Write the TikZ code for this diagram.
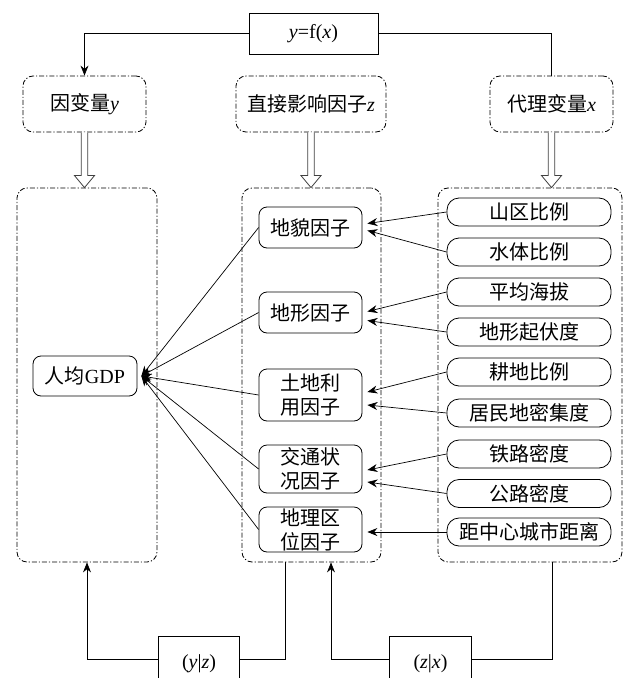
\documentclass[tikz,border=0pt]{standalone}
\usepackage{fontspec}
\setmainfont{Liberation Serif}
\newfontfamily\cjk{Noto Sans CJK SC}
\usetikzlibrary{arrows.meta,calc}
\begin{document}
\begin{tikzpicture}[x=1pt,y=-1pt,
 dd/.style={draw, line width=0.85pt, dash pattern=on 5pt off 2pt on 1.2pt off 2pt, rounded corners=10pt, inner sep=0pt},
 mnode/.style={draw, line width=0.8pt, rounded corners=8pt, minimum width=103pt, inner sep=0pt, align=center, font=\cjk\fontsize{20}{24}\selectfont},
 rnode/.style={draw, line width=0.8pt, rounded corners=12pt, minimum width=164pt, minimum height=28pt, inner sep=0pt, font=\cjk\fontsize{20}{24}\selectfont},
 sbox/.style={draw, line width=0.8pt, inner sep=0pt, font=\fontsize{20}{24}\selectfont},
 arr/.style={line width=0.7pt, -{Stealth[length=10pt,width=8pt]}},
 hollow/.style={draw=black!75, line width=0.8pt, fill=white},
 lab/.style={font=\fontsize{20}{24}\selectfont}
]
\useasboundingbox (0,0) rectangle (642,678);
\clip (0,0) rectangle (642,678);
% top
\node[sbox, minimum width=129pt, minimum height=41pt] (top) at (313.5,33.5) {\textit{y}=f(\textit{x})};
\node[dd, minimum width=123pt, minimum height=56pt, lab] (ty) at (84.5,104) {{\cjk 因变量}\textit{y}};
\node[dd, minimum width=150pt, minimum height=56pt, lab] (tz) at (311,104) {{\cjk 直接影响因子}\textit{z}};
\node[dd, minimum width=123pt, minimum height=56pt, lab] (tx) at (551.5,104) {{\cjk 代理变量}\textit{x}};
\draw[arr] (top.west) -| (ty.north);
\draw[line width=0.7pt] (top.east) -| (tx.north);
% big boxes
\node[dd, minimum width=140pt, minimum height=374pt] (L) at (87,375) {};
\node[dd, minimum width=139pt, minimum height=374pt] (M) at (311.5,375) {};
\node[dd, minimum width=184pt, minimum height=374pt] (R) at (530,375) {};
% hollow arrows
\foreach \a/\b in {ty/L,tz/M,tx/R}{
  \path[hollow] ($(\a.south)+(-3.3,0)$) -- ($(\a.south |- \b.north)+(-3.3,-12)$) -- ($(\a.south |- \b.north)+(-10,-12)$) -- (\a.south |- \b.north) -- ($(\a.south |- \b.north)+(10,-12)$) -- ($(\a.south |- \b.north)+(3.3,-12)$) -- ($(\a.south)+(3.3,0)$);
}
% GDP
\node[draw, line width=0.8pt, rounded corners=8pt, minimum width=104pt, minimum height=40pt, inner sep=0pt, lab] (gdp) at (85,376) {{\cjk 人均}GDP};
% middle nodes
\node[mnode, minimum height=41pt] (m1) at (310.5,227.5) {地貌因子};
\node[mnode, minimum height=41pt] (m2) at (310.5,312.5) {地形因子};
\node[mnode, minimum height=52pt] (m3) at (310.5,395) {土地利\\用因子};
\node[mnode, minimum height=48pt] (m4) at (310.5,469) {交通状\\况因子};
\node[mnode, minimum height=45pt] (m5) at (310.5,529.5) {地理区\\位因子};
% right nodes
\node[rnode] (r1) at (529,212) {山区比例};
\node[rnode] (r2) at (529,252) {水体比例};
\node[rnode] (r3) at (529,292) {平均海拔};
\node[rnode] (r4) at (529,332) {地形起伏度};
\node[rnode] (r5) at (529,372) {耕地比例};
\node[rnode] (r6) at (529,413) {居民地密集度};
\node[rnode] (r7) at (529,454) {铁路密度};
\node[rnode] (r8) at (529,493.5) {公路密度};
\node[rnode] (r9) at (529,532) {距中心城市距离};
% right -> middle arrows
\draw[arr] (r1.west) -- ($(m1.east)+(5,-4)$);
\draw[arr] (r2.west) -- ($(m1.east)+(5,3)$);
\draw[arr] (r3.west) -- ($(m2.east)+(5,-1)$);
\draw[arr] (r4.west) -- ($(m2.east)+(5,8)$);
\draw[arr] (r5.west) -- ($(m3.east)+(5,-3)$);
\draw[arr] (r6.west) -- ($(m3.east)+(5,10)$);
\draw[arr] (r7.west) -- ($(m4.east)+(5,1)$);
\draw[arr] (r8.west) -- ($(m4.east)+(5,13)$);
\draw[arr] (r9.west) -- ($(m5.east)+(5,2.5)$);
% middle -> GDP arrows
\foreach \m in {m1,m2,m3,m4,m5}{
  \draw[arr] (\m.west) -- ($(gdp.east)+(4,0)$);
}
% bottom boxes
\node[sbox, minimum width=81pt, minimum height=56pt] (yz) at (199,664) {(\textit{y}|\textit{z})};
\node[sbox, minimum width=82pt, minimum height=56pt] (zx) at (430.5,664) {(\textit{z}|\textit{x})};
\draw[arr] ($(yz.west)+(0,-5)$) -| (L.south);
\draw[line width=0.7pt] ($(yz.east)+(0,-5)$) -| ($(M.south)+(-26.5,0)$);
\draw[arr] ($(zx.west)+(0,-5)$) -| ($(M.south)+(19.5,0)$);
\draw[line width=0.7pt] ($(zx.east)+(0,-5)$) -| ($(R.south)+(22,0)$);
\end{tikzpicture}
\end{document}
